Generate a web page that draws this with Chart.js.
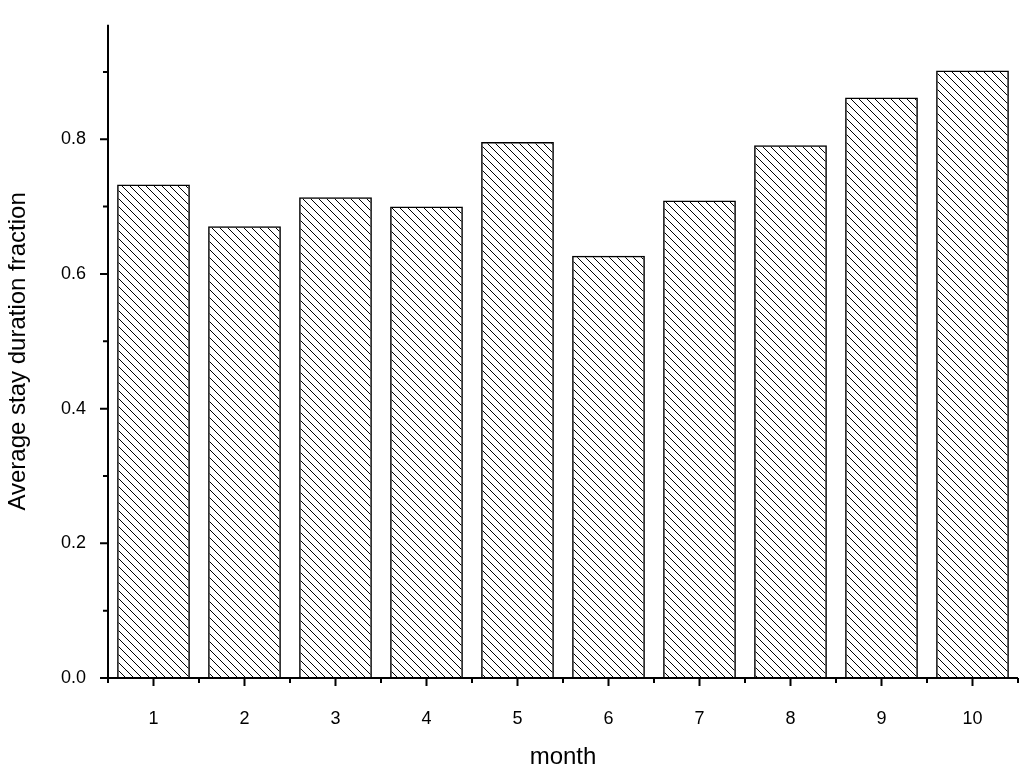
<!DOCTYPE html>
<html><head><meta charset="utf-8">
<script src="https://cdn.jsdelivr.net/npm/chart.js@4"></script>
<style>html,body{margin:0;padding:0;background:#fff}#w{width:1024px;height:776px}</style>
</head><body><div id="w"><canvas id="c"></canvas></div>
<script>
const months = ['1','2','3','4','5','6','7','8','9','10'];
const fractions = [0.733,0.671,0.714,0.700,0.796,0.627,0.709,0.791,0.862,0.902];
const yTickValues = [0,0.2,0.4,0.6,0.8];

function hatch(){
  const p=document.createElement('canvas');p.width=8;p.height=8;
  const g=p.getContext('2d');g.strokeStyle='#000';g.lineWidth=1;
  g.beginPath();
  for(const o of [-8,0,8]){g.moveTo(o,0);g.lineTo(o+8,8);}
  g.stroke();
  return g.createPattern(p,'repeat');
}
const axesPlugin={id:'ax',afterDraw(ch){
  const c=ch.ctx,x=ch.scales.x,y=ch.scales.y,a=ch.chartArea;
  c.save();c.strokeStyle='#000';c.lineWidth=2;
  c.beginPath();c.moveTo(a.left,a.top);c.lineTo(a.left,a.bottom);c.lineTo(a.right,a.bottom);c.stroke();
  c.beginPath();
  for(let v=0;v<=0.95;v+=0.1){const py=y.getPixelForValue(v);const major=Math.round(v*10)%2===0;c.moveTo(a.left,py);c.lineTo(a.left-(major?8:5),py);}
  for(let i=0;i<months.length;i++){const px=x.getPixelForValue(i);c.moveTo(px,a.bottom);c.lineTo(px,a.bottom+8);}
  for(let i=0;i<=months.length;i++){const px=x.getPixelForValue(i-0.5);c.moveTo(px,a.bottom);c.lineTo(px,a.bottom+5);}
  c.stroke();c.restore();
}};
new Chart(document.getElementById('c'),{
  type:'bar',
  data:{labels:months,datasets:[{data:fractions,backgroundColor:hatch(),borderColor:'#000',borderWidth:1.5,barPercentage:0.8,categoryPercentage:1}]},
  options:{responsive:true,maintainAspectRatio:false,animation:false,
    layout:{padding:{top:10,right:6,left:0,bottom:0}},
    plugins:{legend:{display:false},tooltip:{enabled:false}},
    scales:{
      x:{grid:{display:false},border:{display:false},
        ticks:{color:'#000',font:{family:'Liberation Sans',size:18},padding:22,maxRotation:0},
        title:{display:true,text:'month',color:'#000',font:{family:'Liberation Sans',size:24},padding:{top:8}},
        afterFit(s){s.height=98;}},
      y:{min:0,max:0.97,grid:{display:false},border:{display:false},
        afterBuildTicks(s){s.ticks=yTickValues.map(v=>({value:v}));},
        ticks:{color:'#000',font:{family:'Liberation Sans',size:18},padding:14,callback:v=>v.toFixed(1)},
        title:{display:true,text:'Average stay duration fraction',color:'#000',font:{family:'Liberation Sans',size:24},padding:{bottom:10}},
        afterFit(s){s.width=108;}}
    }},
  plugins:[axesPlugin]
});
</script></body></html>
